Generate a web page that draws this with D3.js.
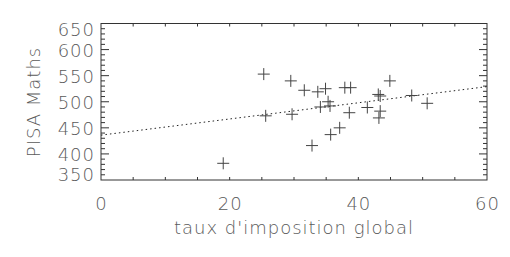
<!DOCTYPE html>
<html>
<head>
<meta charset="utf-8">
<script src="https://cdn.jsdelivr.net/npm/d3@7"></script>
<style>
  body { margin: 0; background: #fff; }
  text { font-family: "DejaVu Sans", sans-serif; font-weight: 200; fill: #5a5a5a; letter-spacing: 1px; }
</style>
</head>
<body>
<svg id="chart" width="510" height="257"></svg>
<script>
// tax rate (x) vs PISA maths score (y)
const taxRate = [19.0, 25.3, 25.6, 29.5, 29.7, 31.6, 32.8, 33.7, 34.9, 34.1, 35.3, 35.6, 35.7,
  37.1, 37.9, 38.8, 38.6, 41.4, 43.1, 43.4, 43.2, 43.4, 44.9, 48.3, 50.7];
const pisaMaths = [382, 553, 473, 540, 476, 522, 416, 519, 525, 490, 500, 492, 437,
  450, 527, 527, 479, 489, 514, 511, 469, 482, 540, 512, 497];
const trendX = [0, 60];
const trendY = [436, 529];
const xLabels = [0, 20, 40, 60];
const yLabels = [350, 400, 450, 500, 550, 600, 650];

const svg = d3.select('#chart');
const m = {left: 101, right: 487, top: 23.5, bottom: 180};
const ink = '#333';

const x = d3.scaleLinear().domain([0, 60]).range([m.left, m.right]);
const y = d3.scaleLinear().domain([350, 650]).range([m.bottom, m.top]);

const g = svg.append('g');

// frame
g.append('rect')
  .attr('x', m.left).attr('y', m.top)
  .attr('width', m.right - m.left).attr('height', m.bottom - m.top)
  .attr('fill', 'none').attr('stroke', ink).attr('stroke-width', 1);

// x ticks every 5, top and bottom, pointing inward
const xt = d3.range(5, 60, 5);
g.selectAll('.xtb').data(xt).enter().append('line')
  .attr('x1', d => x(d)).attr('x2', d => x(d))
  .attr('y1', m.bottom).attr('y2', m.bottom - 3)
  .attr('stroke', ink);
g.selectAll('.xtt').data(xt).enter().append('line')
  .attr('x1', d => x(d)).attr('x2', d => x(d))
  .attr('y1', m.top).attr('y2', m.top + 3)
  .attr('stroke', ink);

// y ticks every 10, majors every 50
const yt = d3.range(360, 650, 10);
const tl = d => (d % 50 === 0 ? 8 : 4);
g.selectAll('.ytl').data(yt).enter().append('line')
  .attr('x1', m.left).attr('x2', d => m.left + tl(d))
  .attr('y1', d => y(d)).attr('y2', d => y(d))
  .attr('stroke', ink);
g.selectAll('.ytr').data(yt).enter().append('line')
  .attr('x1', m.right).attr('x2', d => m.right - tl(d))
  .attr('y1', d => y(d)).attr('y2', d => y(d))
  .attr('stroke', ink);

// tick labels
g.selectAll('.xl').data(xLabels).enter().append('text')
  .attr('x', d => x(d) + 0.5).attr('y', 210)
  .attr('text-anchor', 'middle')
  .style('font-size', '18px')
  .text(d => d);

// end labels are pulled inside the frame, like the original
g.selectAll('.yl').data(yLabels).enter().append('text')
  .attr('x', 95)
  .attr('y', d => Math.min(Math.max(y(d) + 1, m.top + 6), m.bottom - 6) + 6.5)
  .attr('text-anchor', 'end')
  .style('font-size', '18px')
  .text(d => d);

// axis titles
g.append('text')
  .attr('x', 294).attr('y', 234)
  .attr('text-anchor', 'middle')
  .style('font-size', '18px')
  .text("taux d'imposition global");

g.append('text')
  .attr('transform', 'translate(40,102) rotate(-90)')
  .attr('text-anchor', 'middle')
  .style('font-size', '18px')
  .text('PISA Maths');

// trend line
g.append('line')
  .attr('x1', x(trendX[0])).attr('y1', y(trendY[0]))
  .attr('x2', x(trendX[1])).attr('y2', y(trendY[1]))
  .attr('stroke', '#222').attr('stroke-width', 1)
  .attr('stroke-dasharray', '1.5,3');

// plus markers
const pts = taxRate.map((t, i) => ({t, s: pisaMaths[i]}));
const pg = g.selectAll('.pt').data(pts).enter().append('g')
  .attr('transform', d => `translate(${x(d.t)},${y(d.s)})`);
pg.append('line').attr('x1', -6).attr('x2', 6).attr('stroke', '#444');
pg.append('line').attr('y1', -6).attr('y2', 6).attr('stroke', '#444');
</script>
</body>
</html>
